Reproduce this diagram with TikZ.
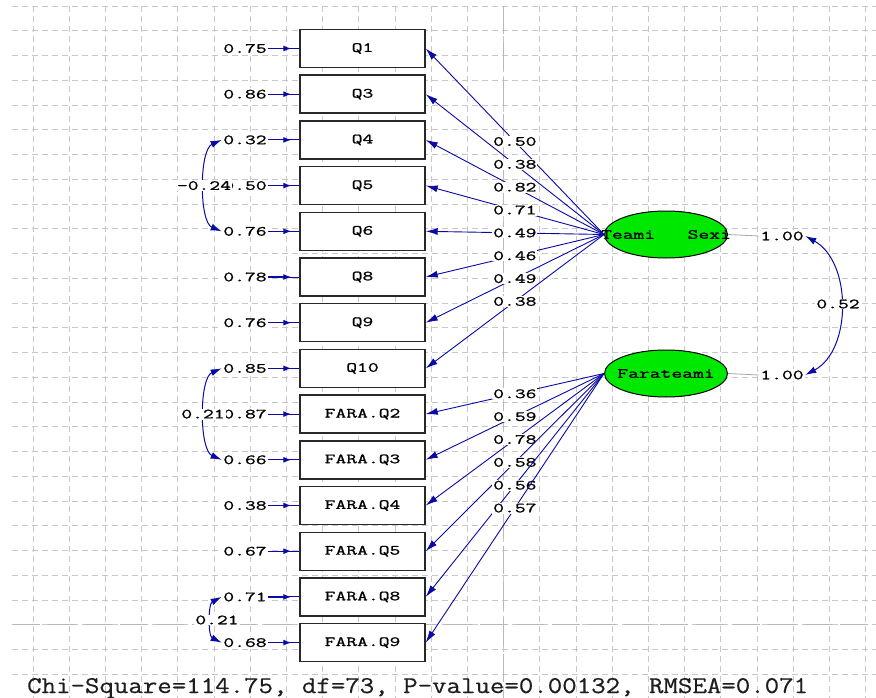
\documentclass[tikz,border=0pt]{standalone}
\usepackage{fontspec}
\usetikzlibrary{arrows.meta,shapes.geometric}
\newfontfamily\lis[FakeStretch=1.5,FakeBold=1.2]{Latin Modern Mono}
\newfontfamily\lisbig[FakeStretch=1.17,FakeBold=0.5]{Latin Modern Mono}
\definecolor{gridc}{RGB}{200,200,200}
\definecolor{gridm}{RGB}{185,185,185}
\definecolor{pathc}{RGB}{10,10,165}
\definecolor{latc}{RGB}{0,232,0}
\definecolor{boxc}{RGB}{40,40,40}
\tikzset{
  gridl/.style={draw=gridc, line width=0.8pt, dash pattern=on 6pt off 4pt},
  gridmaj/.style={draw=gridm, line width=0.9pt, dash pattern=on 28pt off 8pt},
  lbl/.style={font=\lis\fontsize{14}{14}\selectfont, text=black},
  obs/.style={draw=boxc, line width=1.4pt, fill=white, minimum width=125pt, minimum height=38pt, inner sep=0pt, lbl},
  lat/.style={ellipse, draw=black, line width=1pt, fill=latc, minimum width=123pt, minimum height=47pt, inner sep=0pt, lbl},
  errl/.style={lbl, fill=white, inner sep=1.5pt},
  coef/.style={lbl, fill=white, inner sep=1pt},
  load/.style={draw=pathc, line width=0.9pt, -{Latex[length=12pt,width=7pt]}},
  errline/.style={draw=pathc, line width=1pt},
  errarr/.style={draw=pathc, line width=1.2pt, -{Latex[length=8pt,width=6pt]}, shorten >=8pt},
  cov/.style={draw=pathc, line width=1pt, {Latex[length=11pt,width=7pt]}-{Latex[length=11pt,width=7pt]}},
  varl/.style={draw=gray!70, line width=0.8pt}
}
\begin{document}
\begin{tikzpicture}[x=1pt,y=-1pt]
\useasboundingbox (0,0) rectangle (876,698);
\fill[white] (0,0) rectangle (876,698);
% grid
\foreach \i in {0,...,23} {\draw[gridl] ({33+36.2*\i},6) -- ({33+36.2*\i},698);}
\foreach \j in {0,...,27} {\draw[gridl] (12,{6+24.75*\j}) -- (876,{6+24.75*\j});}
\draw[gridmaj] ({33+36.2*13},6) -- ({33+36.2*13},698);
\draw[gridmaj] (12,{6+24.75*25}) -- (876,{6+24.75*25});

% observed boxes
\node[obs] (q1)  at (362.5,48.5)  {Q1};
\node[obs] (q3)  at (362.5,94.2)  {Q3};
\node[obs] (q4)  at (362.5,139.9) {Q4};
\node[obs] (q5)  at (362.5,185.6) {Q5};
\node[obs] (q6)  at (362.5,231.3) {Q6};
\node[obs] (q8)  at (362.5,277.0) {Q8};
\node[obs] (q9)  at (362.5,322.7) {Q9};
\node[obs] (q10) at (362.5,368.4) {Q10};
\node[obs] (f2)  at (362.5,414.1) {FARA.Q2};
\node[obs] (f3)  at (362.5,459.8) {FARA.Q3};
\node[obs] (f4)  at (362.5,505.5) {FARA.Q4};
\node[obs] (f5)  at (362.5,551.2) {FARA.Q5};
\node[obs] (f8)  at (362.5,596.9) {FARA.Q8};
\node[obs] (f9)  at (362.5,642.6) {FARA.Q9};

% error labels
\node[errl] (e1)  at (245,48.5)  {0.75};
\node[errl] (e2)  at (245,94.2)  {0.86};
\node[errl] (e3)  at (245,139.9) {0.32};
\node[errl] (e4)  at (245,185.6) {0.50};
\node[errl] (e5)  at (245,231.3) {0.76};
\node[errl] (e6)  at (245,277.0) {0.78};
\node[errl] (e7)  at (245,322.7) {0.76};
\node[errl] (e8)  at (245,368.4) {0.85};
\node[errl] (e9)  at (245,414.1) {0.87};
\node[errl] (e10) at (245,459.8) {0.66};
\node[errl] (e11) at (245,505.5) {0.38};
\node[errl] (e12) at (245,551.2) {0.67};
\node[errl] (e13) at (245,596.9) {0.71};
\node[errl] (e14) at (245,642.6) {0.68};

\foreach \e/\b in {e1/q1,e2/q3,e3/q4,e4/q5,e5/q6,e6/q8,e7/q9,e8/q10,e9/f2,e10/f3,e11/f4,e12/f5,e13/f8,e14/f9}
  {\draw[errline] (\e.east) -- (\b.west);
   \draw[errarr] (\e.east) -- (\b.west);}

% error covariances
\draw[cov] (e3.west) .. controls (199,150) and (199,222) .. (e5.west);
\node[coef] (c1) at (204,185.6) {-0.24};
\draw[cov] (e8.west) .. controls (199,378) and (199,450) .. (e10.west);
\node[coef] (c2) at (203,414.1) {0.21};
\draw[cov] (e13.west) .. controls (208,604) and (208,636) .. (e14.west);
\node[coef] (c3) at (217,620) {0.21};

% latent variables
\node[lat] (T) at (666,234.5) {\makebox[0pt]{Teami\ \ \ Sexi}};
\node[lat] (F) at (666,373.5) {\makebox[0pt]{Farateami}};

% variances
\node[errl] (vT) at (782,236) {1.00};
\node[errl] (vF) at (782,375) {1.00};
\draw[varl] (T.east) -- (vT.west);
\draw[varl] (F.east) -- (vF.west);
\draw[cov] (vT.east) .. controls (852,262) and (852,350) .. (vF.east);
\node[coef] (c4) at (838,304) {0.52};

% loadings
\draw[load] (T.west) -- node[coef] {0.50} (q1.east);
\draw[load] (T.west) -- node[coef] {0.38} (q3.east);
\draw[load] (T.west) -- node[coef] {0.82} (q4.east);
\draw[load] (T.west) -- node[coef] {0.71} (q5.east);
\draw[load] (T.west) -- node[coef] {0.49} (q6.east);
\draw[load] (T.west) -- node[coef] {0.46} (q8.east);
\draw[load] (T.west) -- node[coef] {0.49} (q9.east);
\draw[load] (T.west) -- node[coef] {0.38} (q10.east);

\draw[load] (F.west) -- node[coef] {0.36} (f2.east);
\draw[load] (F.west) -- node[coef] {0.59} (f3.east);
\draw[load] (F.west) -- node[coef] {0.78} (f4.east);
\draw[load] (F.west) -- node[coef] {0.58} (f5.east);
\draw[load] (F.west) -- node[coef] {0.56} (f8.east);
\draw[load] (F.west) -- node[coef] {0.57} (f9.east);

% fit statistics
\node[anchor=base west, inner sep=0pt, font=\lisbig\fontsize{24}{25}\selectfont, text={rgb,255:red,30;green,30;blue,30}] (fit) at (27,693) {Chi-Square=114.75, df=73, P-value=0.00132, RMSEA=0.071};
\end{tikzpicture}
\end{document}
